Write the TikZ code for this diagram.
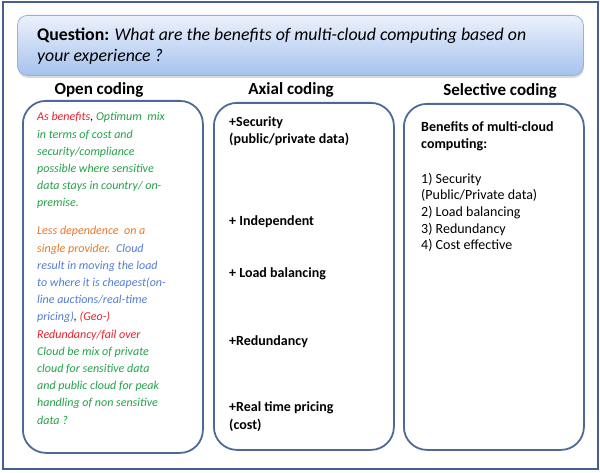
\documentclass[tikz,border=0pt]{standalone}
\usepackage{fontspec}
\setmainfont{Carlito}
\usepackage{tikz}
\usetikzlibrary{positioning,shadows}
\definecolor{framecol}{RGB}{66,96,146}
\definecolor{boxcol}{RGB}{76,106,152}
\definecolor{qtop}{RGB}{236,241,251}
\definecolor{qbottom}{RGB}{166,194,238}
\definecolor{qline}{RGB}{150,178,220}
\definecolor{txtred}{RGB}{232,32,40}
\definecolor{txtgreen}{RGB}{36,160,72}
\definecolor{txtorange}{RGB}{232,118,40}
\definecolor{txtblue}{RGB}{84,124,210}

\begin{document}
\begin{tikzpicture}[x=1pt,y=-1pt,
    codebox/.style={draw=boxcol, line width=1.8pt, rounded corners=23pt, minimum width=180pt, anchor=north west, inner sep=0pt},
    heading/.style={font=\fontsize{17}{20}\selectfont\bfseries, anchor=base},
    opentext/.style={font=\fontsize{12}{17.2}\selectfont\itshape, anchor=base west, align=left, inner sep=0pt},
    axialtext/.style={font=\fontsize{14}{17.5}\selectfont\bfseries, anchor=base west, align=left, inner sep=0pt},
    seltext/.style={font=\fontsize{14}{16.7}\selectfont, anchor=base west, align=left, inner sep=0pt}]
        \useasboundingbox (0,0) rectangle (600,473);
        \node[draw=framecol, line width=2pt, minimum width=595pt, minimum height=466pt, anchor=north west, inner sep=0pt] (frame) at (2,1.5) {};
        \node[draw=qline, line width=0.8pt, rounded corners=10pt, top color=qtop, bottom color=qbottom,
              drop shadow={opacity=0.3, shadow xshift=0.5pt, shadow yshift=-2.5pt},
              minimum width=566pt, minimum height=60pt, anchor=north west, inner sep=0pt] (question) at (17,15) {};
        \node[font=\fontsize{17.8}{21}\selectfont, anchor=base west, align=left, inner sep=0pt] (qtext) at (37,62)
            {\textbf{Question:} \textit{What are the benefits of multi-cloud computing based on}\\\textit{your experience ?}};
        \node[heading] (openhead) at (99,95) {Open coding};
        \node[heading] (axialhead) at (291,95) {Axial coding};
        \node[heading] (selhead) at (500,96) {Selective coding};
        \node[codebox, minimum height=352pt] (openbox) at (22,100) {};
        \node[codebox, minimum height=347pt] (axialbox) at (213,102) {};
        \node[codebox, minimum height=346pt] (selbox) at (403,103) {};
        \node[opentext] (mix) at (37,207) {\textcolor{txtred}{As benefits}, \textcolor{txtgreen}{Optimum\ \ mix}\\
            \textcolor{txtgreen}{in terms of cost and}\\
            \textcolor{txtgreen}{security/compliance}\\
            \textcolor{txtgreen}{possible where sensitive}\\
            \textcolor{txtgreen}{data stays in country/ on-}\\
            \textcolor{txtgreen}{premise.}};
        \node[opentext] (depend) at (37,424) {\textcolor{txtorange}{Less dependence\ \ on a}\\
            \textcolor{txtorange}{single provider.}\ \ \textcolor{txtblue}{Cloud}\\
            \textcolor{txtblue}{result in moving the load}\\
            \textcolor{txtblue}{to where it is cheapest(on-}\\
            \textcolor{txtblue}{line auctions/real-time}\\
            \textcolor{txtblue}{pricing)}, \textcolor{txtred}{(Geo-)}\\
            \textcolor{txtred}{Redundancy/fail over}\\
            \textcolor{txtgreen}{Cloud be mix of private}\\
            \textcolor{txtgreen}{cloud for sensitive data}\\
            \textcolor{txtgreen}{and public cloud for peak}\\
            \textcolor{txtgreen}{handling of non sensitive}\\
            \textcolor{txtgreen}{data ?}};
        \node[axialtext] (security) at (229,144) {+Security\\(public/private data)};
        \node[axialtext] (independent) at (229,226) {+ Independent};
        \node[axialtext] (loadbal) at (229,277) {+ Load balancing};
        \node[axialtext] (redundancy) at (229,345) {+Redundancy};
        \node[axialtext] (pricing) at (229,429) {+Real time pricing\\(cost)};
        \node[seltext, font=\fontsize{14}{17}\selectfont\bfseries] (benefits) at (421,149) {Benefits of multi-cloud\\computing:};
        \node[seltext] (list) at (421,250) {1) Security\\(Public/Private data)\\2) Load balancing\\3) Redundancy\\4) Cost effective};
      \end{tikzpicture}
\end{document}
